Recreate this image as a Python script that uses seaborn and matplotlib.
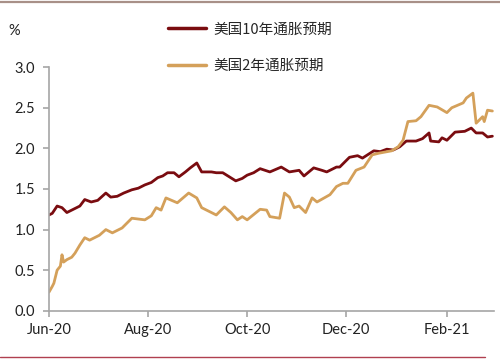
import pandas as pd
import seaborn as sns
import matplotlib.pyplot as plt
import matplotlib.dates as mdates
from matplotlib.lines import Line2D

# 美国10年通胀预期
dates_10y = ['2020-06-01', '2020-06-03', '2020-06-06', '2020-06-09', '2020-06-12', '2020-06-16',
             '2020-06-20', '2020-06-23', '2020-06-27', '2020-07-01', '2020-07-06', '2020-07-09',
             '2020-07-13', '2020-07-17', '2020-07-22', '2020-07-26', '2020-07-30', '2020-08-03',
             '2020-08-07', '2020-08-10', '2020-08-13', '2020-08-17', '2020-08-20', '2020-08-24',
             '2020-08-27', '2020-08-31', '2020-09-03', '2020-09-09', '2020-09-12', '2020-09-16',
             '2020-09-20', '2020-09-24', '2020-09-28', '2020-10-01', '2020-10-05', '2020-10-09',
             '2020-10-15', '2020-10-22', '2020-10-27', '2020-11-02', '2020-11-05', '2020-11-11',
             '2020-11-16', '2020-11-19', '2020-11-25', '2020-11-27', '2020-12-03', '2020-12-08',
             '2020-12-11', '2020-12-18', '2020-12-22', '2020-12-26', '2020-12-30', '2021-01-03',
             '2021-01-07', '2021-01-13', '2021-01-17', '2021-01-21', '2021-01-22', '2021-01-27',
             '2021-01-29', '2021-02-01', '2021-02-06', '2021-02-12', '2021-02-16', '2021-02-19',
             '2021-02-23', '2021-02-26', '2021-03-01']
vals_10y = [1.18, 1.20, 1.29, 1.27, 1.21, 1.25,
            1.29, 1.37, 1.34, 1.36, 1.45, 1.40,
            1.41, 1.45, 1.49, 1.51, 1.55, 1.58,
            1.64, 1.66, 1.70, 1.70, 1.65, 1.71,
            1.76, 1.82, 1.71, 1.71, 1.70, 1.70,
            1.65, 1.60, 1.63, 1.67, 1.70, 1.75,
            1.71, 1.77, 1.71, 1.73, 1.66, 1.76,
            1.73, 1.71, 1.77, 1.77, 1.89, 1.91,
            1.88, 1.97, 1.96, 1.99, 1.98, 2.02,
            2.09, 2.09, 2.12, 2.19, 2.09, 2.08,
            2.13, 2.10, 2.20, 2.21, 2.25, 2.19,
            2.19, 2.14, 2.15]

# 美国2年通胀预期
dates_2y = ['2020-06-01', '2020-06-03', '2020-06-04', '2020-06-06', '2020-06-08', '2020-06-09',
            '2020-06-10', '2020-06-12', '2020-06-15', '2020-06-17', '2020-06-20', '2020-06-23',
            '2020-06-26', '2020-07-02', '2020-07-06', '2020-07-10', '2020-07-16', '2020-07-22',
            '2020-07-30', '2020-08-03', '2020-08-06', '2020-08-09', '2020-08-12', '2020-08-19',
            '2020-08-26', '2020-08-31', '2020-09-03', '2020-09-08', '2020-09-12', '2020-09-17',
            '2020-09-21', '2020-09-25', '2020-09-28', '2020-10-01', '2020-10-09', '2020-10-13',
            '2020-10-15', '2020-10-21', '2020-10-24', '2020-10-27', '2020-10-30', '2020-11-02',
            '2020-11-06', '2020-11-10', '2020-11-13', '2020-11-21', '2020-11-25', '2020-11-29',
            '2020-12-02', '2020-12-07', '2020-12-12', '2020-12-17', '2020-12-21', '2020-12-29',
            '2021-01-02', '2021-01-05', '2021-01-08', '2021-01-13', '2021-01-16', '2021-01-21',
            '2021-01-26', '2021-02-01', '2021-02-04', '2021-02-11', '2021-02-13', '2021-02-17',
            '2021-02-19', '2021-02-23', '2021-02-24', '2021-02-26', '2021-03-01']
vals_2y = [0.23, 0.30, 0.34, 0.50, 0.55, 0.69,
           0.60, 0.63, 0.66, 0.71, 0.81, 0.90,
           0.87, 0.93, 1.00, 0.96, 1.02, 1.14,
           1.12, 1.17, 1.27, 1.24, 1.39, 1.33,
           1.45, 1.39, 1.27, 1.22, 1.18, 1.28,
           1.21, 1.12, 1.16, 1.12, 1.25, 1.24,
           1.16, 1.14, 1.45, 1.40, 1.27, 1.29,
           1.21, 1.39, 1.34, 1.43, 1.53, 1.57,
           1.57, 1.73, 1.77, 1.92, 1.94, 1.97,
           2.02, 2.10, 2.33, 2.34, 2.39, 2.53,
           2.51, 2.44, 2.50, 2.56, 2.62, 2.68,
           2.31, 2.39, 2.33, 2.47, 2.46]

labels = ['美国10年通胀预期', '美国2年通胀预期']
colors = ['#7a0c10', '#d4a05a']

df10 = pd.DataFrame({'date': pd.to_datetime(dates_10y), 'value': vals_10y})
df2 = pd.DataFrame({'date': pd.to_datetime(dates_2y), 'value': vals_2y})

sns.set_style('white')
plt.rcParams['font.family'] = ['Lato', 'Noto Sans CJK SC', 'DejaVu Sans']

fig = plt.figure(figsize=(5, 3.61), dpi=100)
ax = fig.add_axes([0.098, 0.139, 0.89, 0.675])

sns.lineplot(data=df10, x='date', y='value', ax=ax, color=colors[0], linewidth=2.0)
sns.lineplot(data=df2, x='date', y='value', ax=ax, color=colors[1], linewidth=2.0)

ax.set_ylim(0, 3.0)
ax.set_xlim(pd.Timestamp('2020-06-01'), pd.Timestamp('2021-03-02'))
ax.set_yticks([0.0, 0.5, 1.0, 1.5, 2.0, 2.5, 3.0])
ax.yaxis.set_major_formatter(plt.FuncFormatter(lambda v, p: f'{v:.1f}'))
ax.xaxis.set_major_locator(mdates.MonthLocator(bymonth=[2, 4, 6, 8, 10, 12]))
ax.xaxis.set_major_formatter(mdates.DateFormatter('%b-%y'))
ax.set_xlabel('')
ax.set_ylabel('')

for s in ['top', 'right']:
    ax.spines[s].set_visible(False)
for s in ['left', 'bottom']:
    ax.spines[s].set_color('#a6a6a6')
    ax.spines[s].set_linewidth(1.2)
ax.tick_params(axis='both', colors='#a6a6a6', length=4, width=1.2, labelsize=10.5,
               labelcolor='#222222', direction='out')
ax.tick_params(axis='x', pad=5, bottom=True)
ax.tick_params(axis='y', left=True, pad=6)

fig.text(0.016, 0.915, '%', fontsize=10.5, color='#222222', va='center')

handles = [Line2D([0], [0], color=c, linewidth=2.5) for c in colors]
fig.legend(handles, labels, loc='center left', bbox_to_anchor=(0.31, 0.868),
           frameon=False, handlelength=2.6, handletextpad=0.5,
           labelspacing=1.55, prop={'family': ['Noto Sans CJK SC'], 'size': 10.5})

# 图表上下的装饰线
fig.add_artist(Line2D([0, 1], [0.994, 0.994], color='#a89088', linewidth=1.6))
fig.add_artist(Line2D([0, 0.97], [0.012, 0.012], color='#b04050', linewidth=1.0))

fig.savefig('out.png', dpi=100)
